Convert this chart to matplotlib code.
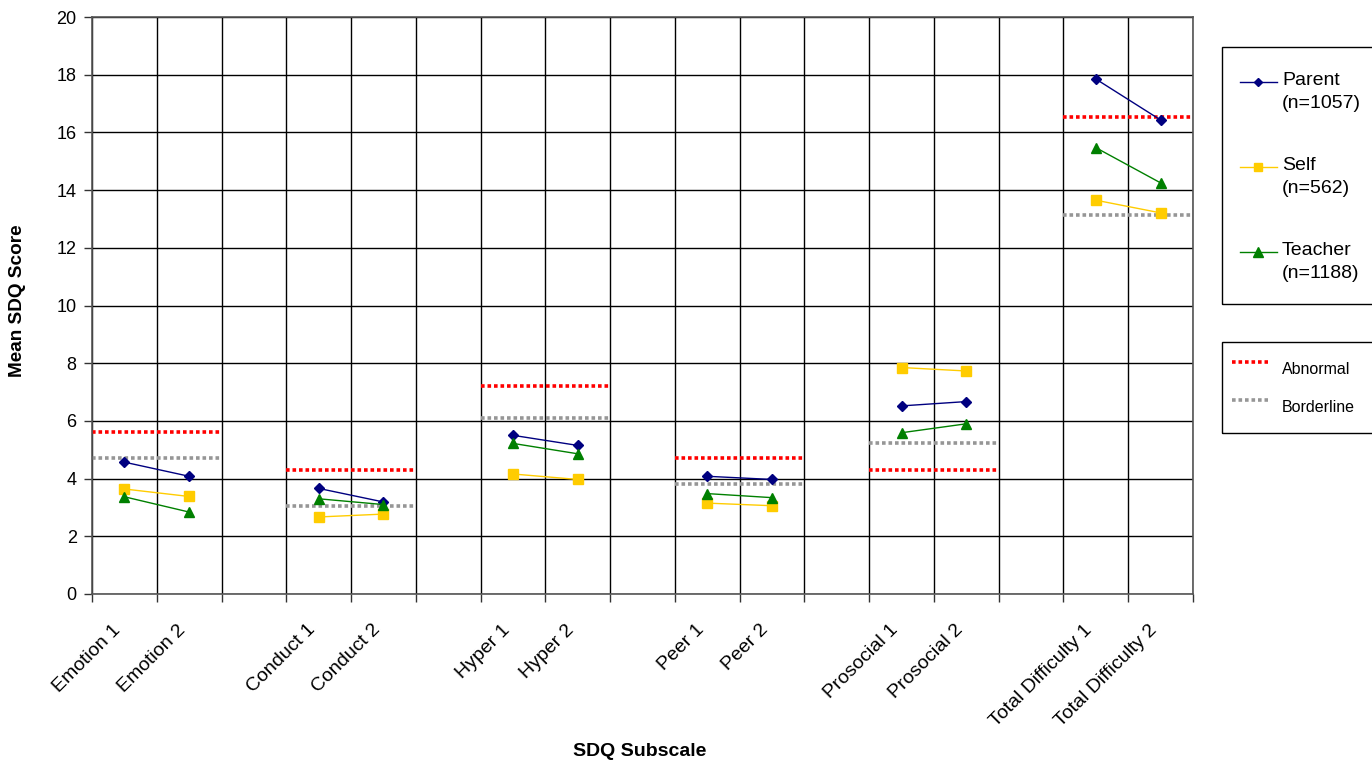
import matplotlib.pyplot as plt
import matplotlib.transforms as mtransforms
from matplotlib.lines import Line2D
from matplotlib.patches import Rectangle

plt.rcParams["font.family"] = ["Liberation Sans", "DejaVu Sans"]

# categories along the x axis (blank slots separate the subscales)
categories = ["Emotion 1", "Emotion 2", "",
              "Conduct 1", "Conduct 2", "",
              "Hyper 1", "Hyper 2", "",
              "Peer 1", "Peer 2", "",
              "Prosocial 1", "Prosocial 2", "",
              "Total Difficulty 1", "Total Difficulty 2"]

# mean scores per informant, one pair per subscale
parent = [4.57, 4.08, 3.66, 3.19, 5.50, 5.15, 4.08, 3.97, 6.52, 6.67, 17.85, 16.43]
self_report = [3.64, 3.38, 2.67, 2.77, 4.16, 3.97, 3.15, 3.06, 7.85, 7.73, 13.65, 13.21]
teacher = [3.37, 2.84, 3.30, 3.10, 5.22, 4.86, 3.48, 3.34, 5.59, 5.90, 15.47, 14.25]

# cut-offs per subscale
abnormal = [5.62, 4.29, 7.21, 4.72, 4.31, 16.53]
borderline = [4.72, 3.04, 6.11, 3.81, 5.24, 13.15]

series_labels = ["Parent\n(n=1057)", "Self\n(n=562)", "Teacher\n(n=1188)"]

fig = plt.figure(figsize=(13.72, 7.63), dpi=100)
ax = fig.add_axes([92 / 1372, 1 - 594 / 763, (1193 - 92) / 1372, (594 - 17) / 763])

n = len(categories)
ax.set_xlim(-0.5, n - 0.5)
ax.set_ylim(0, 20)

# grid
for k in range(n + 1):
    ax.axvline(k - 0.5, color="black", lw=1.0, zorder=0)
for v in range(0, 21, 2):
    ax.axhline(v, color="black", lw=1.0, zorder=0)

dot = (0, (1, 0.8))
styles = [
    (parent, "#000080", "D", 5.5),
    (self_report, "#FFCC00", "s", 6.5),
    (teacher, "#008000", "^", 7.5),
]

for g in range(6):
    x1, x2 = 3 * g, 3 * g + 1
    ax.plot([x1 - 0.5, x2 + 0.5], [abnormal[g]] * 2, color="#FF0000", lw=2.6,
            linestyle=dot, dash_capstyle="butt", zorder=2)
    ax.plot([x1 - 0.5, x2 + 0.5], [borderline[g]] * 2, color="#969696", lw=2.6,
            linestyle=dot, dash_capstyle="butt", zorder=2)
    for vals, col, mk, ms in styles:
        ax.plot([x1, x2], vals[2 * g:2 * g + 2], color=col, lw=1.0, marker=mk,
                markersize=ms, markeredgecolor=col, zorder=3)

# ticks
ax.set_yticks(range(0, 21, 2))
ax.tick_params(axis="y", length=6, width=1, labelsize=13, pad=5, colors="#333333",
               labelcolor="black")
ax.set_xticks(range(n))
ax.set_xticklabels(categories, rotation=45, ha="right", va="center",
                   rotation_mode="anchor", fontsize=14)
ax.tick_params(axis="x", length=0, pad=24)
shift = mtransforms.ScaledTranslation(-6 / 100, 0, fig.dpi_scale_trans)
for lab in ax.get_xticklabels():
    lab.set_transform(lab.get_transform() + shift)
ax.set_xticks([k - 0.5 for k in range(n + 1)], minor=True)
ax.tick_params(axis="x", which="minor", length=6, width=1, colors="#333333")

for s in ax.spines.values():
    s.set_color("#555555")
    s.set_linewidth(1.2)

fig.text(640 / 1372, 1 - 752 / 763, "SDQ Subscale", ha="center", va="center",
         fontsize=14, fontweight="bold")
fig.text(18 / 1372, 1 - 301 / 763, "Mean SDQ Score", ha="center", va="center",
         rotation=90, fontsize=13.7, fontweight="bold")


# legends drawn in pixel coordinates of the figure
def px(x, y):
    return x / 1372, 1 - y / 763


def frame(x0, y0, x1, y1):
    (fx0, fy1), (fx1, fy0) = px(x0, y0), px(x1, y1)
    fig.add_artist(Rectangle((fx0, fy0), fx1 - fx0, fy1 - fy0, transform=fig.transFigure,
                             fill=False, edgecolor="black", lw=1.0, clip_on=False))


frame(1222, 47, 1380, 304)
for i, (vals, col, mk, ms) in enumerate(styles):
    yy = 81.7 + 85 * i
    xa, ya = px(1240, yy)
    xb, _ = px(1277, yy)
    xm, _ = px(1258, yy)
    fig.add_artist(Line2D([xa, xb], [ya, ya], color=col, lw=1.0, transform=fig.transFigure))
    fig.add_artist(Line2D([xm], [ya], color=col, marker=mk, markersize=ms - 1,
                          transform=fig.transFigure))
    for j, line in enumerate(series_labels[i].split("\n")):
        tx, ty = px(1282, yy - 1.5 + 23 * j)
        fig.text(tx, ty, line, ha="left", va="center", fontsize=14)

frame(1222, 342, 1380, 433)
for yy, ty_, col, lab in [(362, 370, "#FF0000", "Abnormal"), (400, 407, "#969696", "Borderline")]:
    xa, ya = px(1232, yy)
    xb, _ = px(1268, yy)
    fig.add_artist(Line2D([xa, xb], [ya, ya], color=col, lw=2.6, linestyle=dot,
                          dash_capstyle="butt", transform=fig.transFigure))
    tx, ty = px(1282, ty_)
    fig.text(tx, ty, lab, ha="left", va="center", fontsize=11.5)

fig.savefig("out.png", dpi=100)
